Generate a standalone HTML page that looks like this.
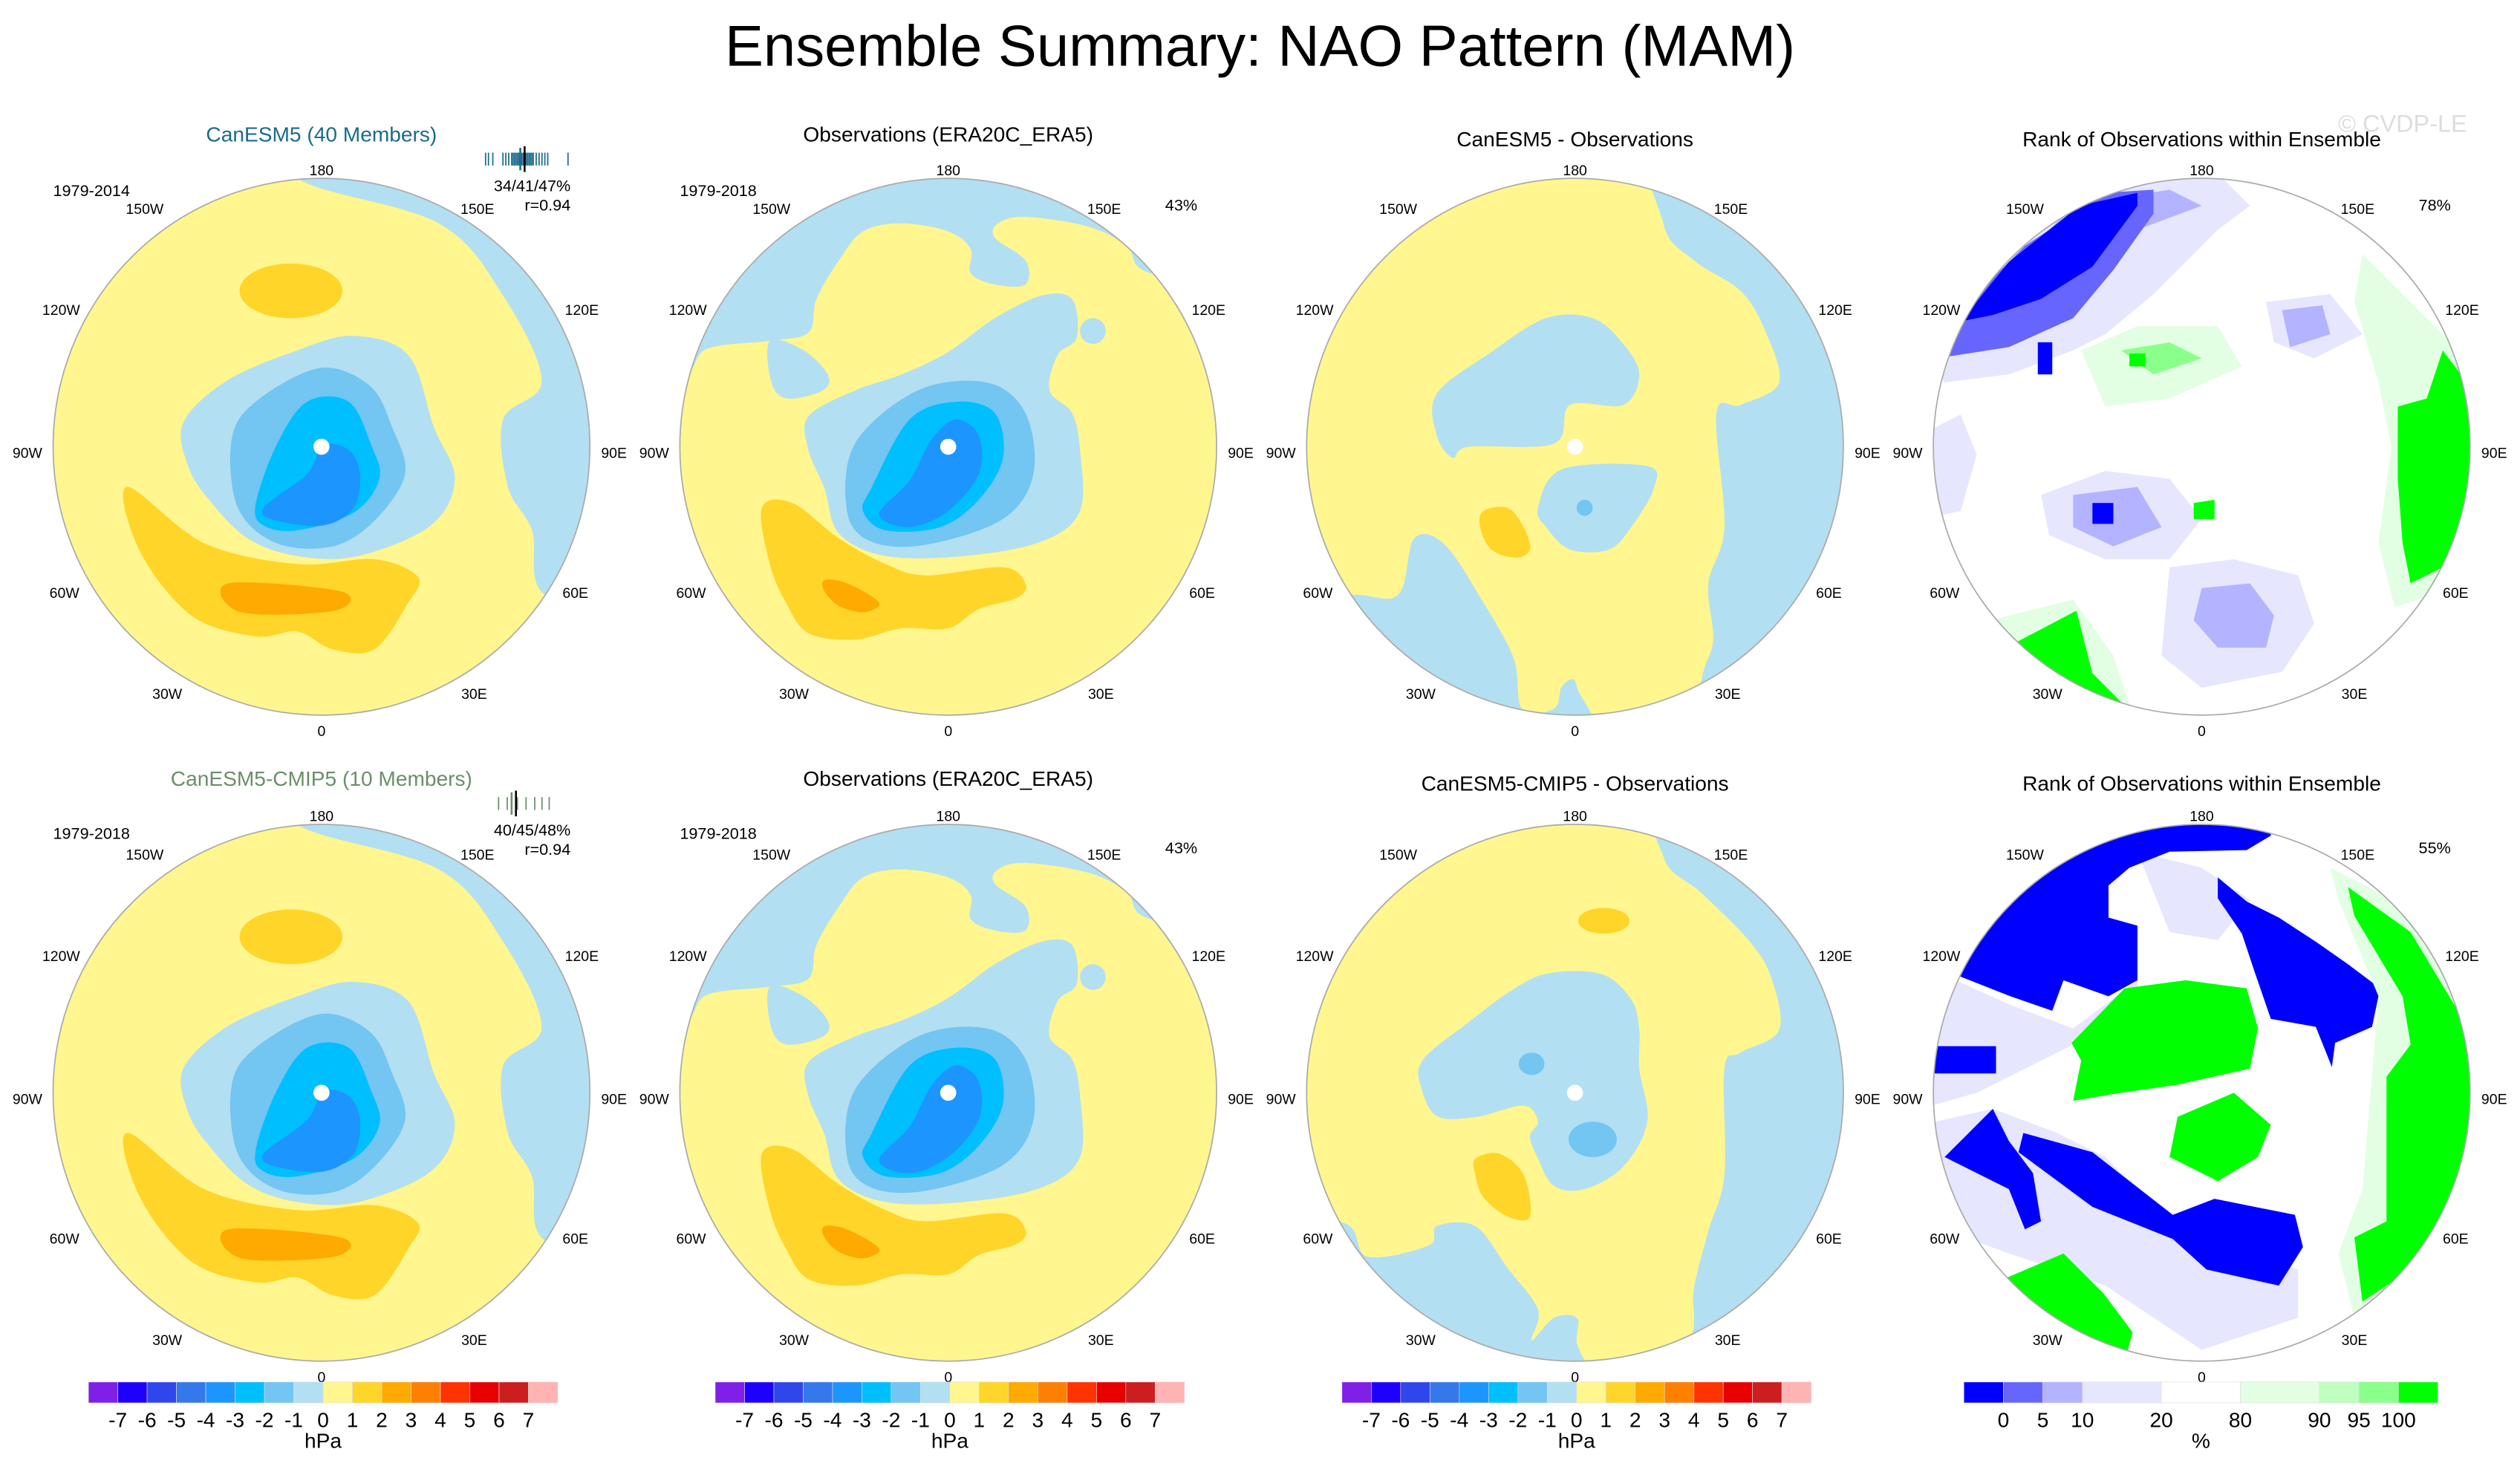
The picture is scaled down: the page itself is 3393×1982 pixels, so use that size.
<!DOCTYPE html>
<html><head><meta charset="utf-8"><title>Ensemble Summary: NAO Pattern (MAM)</title>
<style>
html,body{margin:0;padding:0;background:#fff;}
svg{display:block;font-family:"Liberation Sans",Arial,sans-serif;}
</style></head>
<body>
<svg id="fig" width="3393" height="1982" viewBox="0 0 1568 916" xmlns="http://www.w3.org/2000/svg">
<rect width="1568" height="916" fill="#fff"/>
<text x="784" y="41" text-anchor="middle" font-size="36" fill="#000">Ensemble Summary: NAO Pattern (MAM)</text>
<text x="1495" y="82" text-anchor="middle" font-size="15" fill="#ddd">© CVDP-LE</text>
<g id="panels"></g>
</svg>
<script>
// ---- colour scale data ----
const hpaColors = ["#7F1FE8","#1E00FF","#2F46EC","#3478EC","#1C95FF","#00BFFF","#73C5F2","#B3DFF2","#FFF68F","#FFD52A","#FFAA00","#FF7F00","#FF3300","#E80000","#CC1E1E","#FFB3B3"];
const hpaLabels = ["-7","-6","-5","-4","-3","-2","-1","0","1","2","3","4","5","6","7"];
const rankColors = ["#0000FF","#6666FF","#B3B3FF","#E6E6FF","#FFFFFF","#E3FFE3","#BFFFBF","#8AFF8A","#00FF00"];
const rankEdges = [0,5,10,20,80,90,95,100];
const rankUnits = [1,1,1,2,2,2,1,1,1];
// ensemble member ticks (rug) values
const rug1 = [-3.1,-2.9,-2.6,-1.9,-1.7,-1.5,-1.3,-1.2,-1.1,-1.0,-0.9,-0.8,-0.7,-0.6,-0.5,-0.4,-0.3,-0.2,-0.1,0.0,0.1,0.2,0.4,0.6,0.8,1.0,1.2,2.6];
const rug1Obs = -0.4, rug1Mean = -0.7;
const rug2 = [-2.2,-1.6,-0.9,-0.3,0.3,0.8,1.3];
const rug2Obs = -1.0, rug2Mean = -1.3;

const NS="http://www.w3.org/2000/svg";
const root=document.getElementById('panels');
function el(tag,attrs,parent){const e=document.createElementNS(NS,tag);for(const k in attrs)e.setAttribute(k,attrs[k]);(parent||root).appendChild(e);return e;}
function smooth(pts){let d=`M${pts[0][0]},${pts[0][1]}`;const n=pts.length;
 for(let i=0;i<n;i++){const p0=pts[(i-1+n)%n],p1=pts[i],p2=pts[(i+1)%n],p3=pts[(i+2)%n];
  d+=` C${p1[0]+(p2[0]-p0[0])/6},${p1[1]+(p2[1]-p0[1])/6} ${p2[0]-(p3[0]-p1[0])/6},${p2[1]-(p3[1]-p1[1])/6} ${p2[0]},${p2[1]}`;}
 return d+'Z';}
function poly(pts){return 'M'+pts.map(p=>p.join(',')).join('L')+'Z';}

const R=167;
const centers=[[200,278],[590,278],[980,278],[1370,278],[200,680],[590,680],[980,680],[1370,680]];

const LB="#B3DFF2",B2="#73C5F2",B3="#00BFFF",B4="#1C95FF",Y="#FFF68F",O1="#FFD52A",O2="#FFAA00";
const modelShapes=[
 [LB,[[-15,-167],[-15,-200],[200,-200],[200,100],[139,92],[131,52],[116,25],[113,-17],[137,-41],[113,-94],[73,-139]]],
 [O1,'E',-19,-97,32,17],
 [O1,[[-121,25],[-73,60],[-15,73],[33,70],[60,81],[54,97],[33,126],[7,126],[-15,115],[-41,118],[-81,105],[-113,65]]],
 [O2,[[-58,85],[12,90],[8,102],[-50,103]]],
 [LB,[[-86,-15],[-59,-41],[-15,-60],[20,-69],[54,-57],[70,-12],[83,20],[68,49],[23,68],[-15,68],[-46,57],[-70,33],[-83,12]]],
 [B2,[[-56,-4],[-41,-28],[-1,-49],[30,-38],[44,-12],[52,17],[33,46],[7,62],[-28,60],[-52,38]]],
 [B3,[[-41,36],[-28,-1],[-9,-28],[17,-28],[31,-1],[36,20],[20,41],[-15,52],[-36,49]]],
 [B4,[[-36,38],[-9,17],[1,-1],[17,2],[24,17],[20,38],[1,49],[-28,46]]]
];
const obsShapes=[
 [LB,[[-200,-200],[200,-200],[200,-40],[-200,-40]]],
 [Y,[[-164,-45],[-150,-61],[-111,-66],[-87,-71],[-82,-92],[-68,-116],[-53,-134],[-29,-139],[0,-134],[14,-123],[14,-108],[29,-101],[48,-101],[48,-116],[29,-130],[31,-139],[48,-143],[87,-137],[111,-125],[126,-108],[200,-100],[200,200],[-200,200],[-200,-45]]],
 [LB,[[-111,-66],[-90,-60],[-75,-45],[-78,-35],[-100,-30],[-110,-40]]],
 [LB,[[-87,-19],[-58,-35],[-29,-45],[0,-59],[29,-80],[58,-94],[77,-92],[80,-68],[68,-57],[63,-35],[77,-21],[82,2],[82,40],[58,59],[10,68],[-39,68],[-68,54],[-77,26],[-87,2]]],
 [LB,'E',90,-72,8,8],
 [O1,[[-116,38],[-97,35],[-68,57],[-39,73],[-14,80],[34,75],[48,85],[43,94],[19,101],[0,113],[-29,113],[-58,120],[-87,116],[-101,97],[-111,73]]],
 [O2,[[-77,83],[-63,85],[-43,97],[-53,103],[-68,99],[-77,90]]],
 [B2,[[-58,-2],[-19,-35],[24,-40],[48,-21],[53,17],[34,45],[-14,61],[-48,59],[-63,40]]],
 [B3,[[-48,26],[-24,-17],[5,-28],[29,-21],[34,7],[19,33],[-5,50],[-39,52],[-53,40]]],
 [B4,[[-43,42],[-24,21],[-10,-5],[5,-17],[19,-7],[19,17],[0,40],[-24,50]]]
];
const diffTop=[
 [LB,[[55,-139],[74,-116],[103,-97],[118,-73],[127,-40],[103,-26],[88,-21],[93,50],[83,85],[86,120],[79,144],[70,200],[200,200],[200,-200],[55,-200]]],
 [LB,[[-86,-33],[-52,-59],[-18,-80],[11,-80],[30,-64],[40,-45],[30,-26],[-3,-26],[-13,-2],[-66,0],[-76,7],[-86,-7]]],
 [LB,[[-8,14],[45,12],[49,26],[35,50],[21,64],[-3,64],[-18,50],[-23,38]]],
 [B2,'E',6,38,5,5],
 [LB,[[-139,92],[-110,92],[-100,57],[-81,61],[-57,97],[-38,132],[-33,163],[-13,163],[-8,149],[1,149],[1,200],[-200,200],[-200,92]]],
 [O1,[[-57,40],[-42,38],[-32,50],[-28,64],[-37,69],[-52,64],[-59,50]]]
];
const diffBot=[
 [LB,[[55,-147],[79,-124],[108,-95],[122,-72],[127,-39],[103,-25],[93,-15],[93,51],[83,86],[74,122],[74,145],[70,200],[200,200],[200,-200],[55,-200]]],
 [LB,[[-95,-20],[-66,-44],[-42,-62],[-18,-74],[16,-74],[35,-58],[40,-39],[40,-15],[45,18],[30,46],[6,60],[-13,58],[-23,41],[-28,27],[-23,18],[-32,8],[-61,15],[-85,15],[-95,-1]]],
 [B2,'E',-27,-18,8,7],
 [B2,'E',11,29,15,11],
 [LB,[[-144,81],[-129,102],[-91,95],[-86,83],[-62,83],[-42,109],[-23,135],[-27,154],[-13,140],[1,140],[1,154],[-3,200],[-200,200],[-200,81]]],
 [O1,[[-62,41],[-47,38],[-32,51],[-28,77],[-42,77],[-57,65],[-62,51]]],
 [O1,'E',18,-107,16,8]
];
const rankTop=[
 ["#E6E6FF",[[-175,-60],[-170,-120],[-60,-175],[10,-170],[30,-150],[10,-135],[-10,-115],[-30,-95],[-60,-70],[-80,-60],[-120,-45],[-160,-40]]],
 ["#E6E6FF",[[-170,-10],[-150,-20],[-140,5],[-150,40],[-175,45]]],
 ["#E6E6FF",[[-100,30],[-60,15],[-20,20],[0,45],[-20,70],[-60,70],[-95,55]]],
 ["#E6E6FF",[[-20,75],[20,70],[60,80],[70,110],[50,140],[0,150],[-25,130]]],
 ["#E6E6FF",[[40,-90],[80,-95],[100,-70],[70,-55],[45,-65]]],
 ["#B3B3FF",[[-160,-60],[-130,-100],[-80,-150],[-20,-160],[0,-150],[-40,-135],[-70,-110],[-100,-80],[-140,-60]]],
 ["#B3B3FF",[[-80,30],[-40,25],[-25,50],[-55,62],[-80,50]]],
 ["#B3B3FF",[[0,88],[30,85],[45,105],[40,125],[10,125],[-5,108]]],
 ["#B3B3FF",[[50,-85],[75,-88],[80,-70],[55,-62]]],
 ["#6666FF",[[-165,-55],[-150,-85],[-110,-125],[-60,-158],[-30,-160],[-30,-145],[-55,-110],[-80,-80],[-120,-62]]],
 ["#0000FF",[[-150,-78],[-120,-115],[-76,-150],[-40,-158],[-40,-150],[-68,-112],[-100,-92],[-130,-82]]],
 ["#0000FF",[[-102,-65],[-93,-65],[-93,-45],[-102,-45]]],
 ["#0000FF",[[-68,35],[-55,35],[-55,48],[-68,48]]],
 ["#E3FFE3",[[-75,-60],[-40,-75],[10,-75],[25,-50],[-20,-30],[-60,-25]]],
 ["#E3FFE3",[[100,-120],[140,-80],[170,-50],[175,40],[150,90],[120,100],[110,60],[118,0],[110,-40],[95,-90]]],
 ["#E3FFE3",[[-140,110],[-80,95],[-55,130],[-40,175],[-150,175]]],
 ["#8AFF8A",[[-50,-60],[-20,-65],[0,-55],[-30,-45]]],
 ["#00FF00",[[150,-60],[165,-40],[172,0],[165,40],[150,75],[130,85],[125,60],[122,20],[122,-25],[140,-30]]],
 ["#00FF00",[[-116,122],[-78,102],[-68,141],[-48,161],[-111,146],[-130,130]]],
 ["#00FF00",[[-5,35],[8,33],[8,45],[-5,45]]],
 ["#00FF00",[[-45,-58],[-35,-58],[-35,-50],[-45,-50]]]
];
const rankBot=[
 ["#E6E6FF",[[-175,-80],[-120,-55],[-80,-40],[-60,-55],[-40,-70],[-40,-60],[-60,-40],[-100,-20],[-140,0],[-175,10]]],
 ["#E6E6FF",[[-175,20],[-130,10],[-90,25],[-60,40],[-20,80],[20,100],[60,110],[60,140],[0,160],[-60,120],[-120,100],[-175,80]]],
 ["#E6E6FF",[[-40,-150],[0,-140],[30,-120],[10,-95],[-20,-100]]],
 ["#0000FF",[[-160,-80],[-119,-129],[-68,-158],[-18,-175],[43,-175],[43,-160],[28,-151],[-20,-150],[-45,-140],[-58,-129],[-58,-109],[-40,-104],[-40,-70],[-58,-60],[-86,-70],[-93,-51],[-119,-60],[-152,-73]]],
 ["#0000FF",[[10,-134],[28,-119],[48,-109],[71,-94],[91,-80],[111,-65],[106,-41],[83,-31],[81,-16],[71,-41],[43,-46],[33,-75],[25,-99],[10,-121]]],
 ["#0000FF",[[-111,25],[-68,37],[-18,76],[8,66],[58,76],[63,96],[48,120],[3,110],[-18,91],[-68,71],[-114,37]]],
 ["#0000FF",[[-130,10],[-145,25],[-160,40],[-120,60],[-110,85],[-100,80],[-105,50],[-120,30]]],
 ["#0000FF",[[-175,-29],[-128,-29],[-128,-12],[-175,-12]]],
 ["#E3FFE3",[[80,-140],[140,-110],[175,-40],[175,50],[150,110],[95,140],[85,100],[100,60],[105,0],[110,-60],[85,-120]]],
 ["#00FF00",[[91,-128],[130,-100],[160,-50],[172,0],[160,60],[130,110],[100,130],[95,90],[115,80],[115,40],[115,-10],[130,-30],[125,-60],[95,-110]]],
 ["#00FF00",[[-81,-31],[-48,-65],[-10,-70],[28,-65],[35,-40],[30,-15],[-15,-5],[-50,0],[-80,5],[-75,-20]]],
 ["#00FF00",[[-15,15],[20,0],[43,20],[35,40],[10,55],[-20,40]]],
 ["#00FF00",[[-121,115],[-86,100],[-61,125],[-43,149],[-50,175],[-111,150]]]
];
const panelShapes=[modelShapes,obsShapes,diffTop,rankTop,modelShapes,obsShapes,diffBot,rankBot];
const panelBg=[Y,Y,Y,"#FFFFFF",Y,Y,Y,"#FFFFFF"];
const panelNames=["canesm5-map","obs-map-top","diff-map-top","rank-map-top","canesm5-cmip5-map","obs-map-bottom","diff-map-bottom","rank-map-bottom"];
const titles=[["CanESM5 (40 Members)","#1A6B8A"],["Observations (ERA20C_ERA5)","#000"],["CanESM5 - Observations","#000"],["Rank of Observations within Ensemble","#000"],
 ["CanESM5-CMIP5 (10 Members)","#6B8E6B"],["Observations (ERA20C_ERA5)","#000"],["CanESM5-CMIP5 - Observations","#000"],["Rank of Observations within Ensemble","#000"]];
const titleY=[88,88,91,91,489,489,492,492];
const lonLabels=[["180",0,-172],["150W",-110,-148],["150E",97,-148],["120W",-162,-85],["120E",162,-85],["90W",-183,4],["90E",182,4],["60W",-160,91],["60E",158,91],["30W",-96,154],["30E",95,154],["0",0,177]];

centers.forEach((c,i)=>{
 const g=el('g',{transform:`translate(${c[0]},${c[1]})`});
 
 
 const cp=el('clipPath',{id:'cp'+i},g); el('circle',{cx:0,cy:0,r:R},cp);
 const m=el('g',{'clip-path':`url(#cp${i})`},g);
 el('rect',{x:-R,y:-R,width:2*R,height:2*R,fill:panelBg[i]},m);
 const rank=(i%4===3);
 panelShapes[i].forEach(s=>{
  let p;
  if(s[1]==='E') p=el('ellipse',{cx:s[2],cy:s[3],rx:s[4],ry:s[5],fill:s[0]},m);
  else p=el('path',{d:rank?poly(s[1]):smooth(s[1]),fill:s[0]},m);
  
  
 });
 if(!rank){const d=el('circle',{cx:0,cy:0,r:5,fill:'#fff'},m);
  
  }
 el('circle',{cx:0,cy:0,r:R,fill:'none',stroke:'#aaa','stroke-width':0.8},g);
 lonLabels.forEach(l=>{const t=el('text',{x:l[1],y:l[2]+3,'text-anchor':'middle','font-size':9,fill:'#000'},g);t.textContent=l[0];
  
  });
 const tt=el('text',{x:c[0],y:titleY[i],'text-anchor':'middle','font-size':13,fill:titles[i][1]});tt.textContent=titles[i][0];
 
 
});
function txt(s,x,y,size,name,anchor,fill){const t=el('text',{x:x,y:y,'font-size':size,'text-anchor':anchor||'start',fill:fill||'#000'});t.textContent=s;
 
 return t;}
txt("1979-2014",33,122,10,"period-label");
txt("1979-2018",423,122,10,"period-label");
txt("1979-2018",33,522,10,"period-label");
txt("1979-2018",423,522,10,"period-label");
txt("34/41/47%",355,119,10,"pattern-percent","end");
txt("r=0.94",355,131,10,"pattern-correlation","end");
txt("40/45/48%",355,520,10,"pattern-percent","end");
txt("r=0.94",355,532,10,"pattern-correlation","end");
txt("43%",745,131,10,"obs-percent","end");
txt("43%",745,531,10,"obs-percent","end");
txt("78%",1525,131,10,"rank-percent","end");
txt("55%",1525,531,10,"rank-percent","end");

function rugX(v){return 330+v*9;}
function drawRug(vals,obs,mean,y0,col){
 vals.forEach(v=>{const l=el('line',{x1:rugX(v),x2:rugX(v),y1:y0-4,y2:y0+4,stroke:col,'stroke-width':0.8});
  
  });
 const a=el('line',{x1:rugX(obs),x2:rugX(obs),y1:y0-8,y2:y0+8,stroke:'#000','stroke-width':1.2});
 
 
 const b=el('line',{x1:rugX(mean),x2:rugX(mean),y1:y0-7,y2:y0+7,stroke:col,'stroke-width':1.2});
 
 
}
drawRug(rug1,rug1Obs,rug1Mean,99,'#1A6B8A');
drawRug(rug2,rug2Obs,rug2Mean,500,'#6B8E6B');

[55,445,835].forEach((x0,k)=>{
 const w=292,bw=w/hpaColors.length,y0=860,h=13;
 hpaColors.forEach((c,j)=>{const r=el('rect',{x:x0+j*bw,y:y0,width:bw,height:h,fill:c,stroke:'#ddd','stroke-width':0.3});
  
  });
 hpaLabels.forEach((s,j)=>txt(s,x0+(j+1)*bw,888,13,'colorbar-tick-label','middle'));
 txt("hPa",x0+w/2,901,13,'colorbar-unit','middle');
});
(function(){
 const x0=1222,w=295,y0=860,h=13;const tot=rankUnits.reduce((a,b)=>a+b,0);let x=x0;const bounds=[];
 rankColors.forEach((c,j)=>{const bw=w*rankUnits[j]/tot;const r=el('rect',{x:x,y:y0,width:bw,height:h,fill:c,stroke:'#ddd','stroke-width':0.3});
  
  
  x+=bw;bounds.push(x);});
 rankEdges.forEach((e,j)=>txt(String(e),bounds[j],888,13,'rank-tick-label','middle'));
 txt("%",x0+w/2,901,13,'rank-colorbar-unit','middle');
})();
</script>
</body></html>
